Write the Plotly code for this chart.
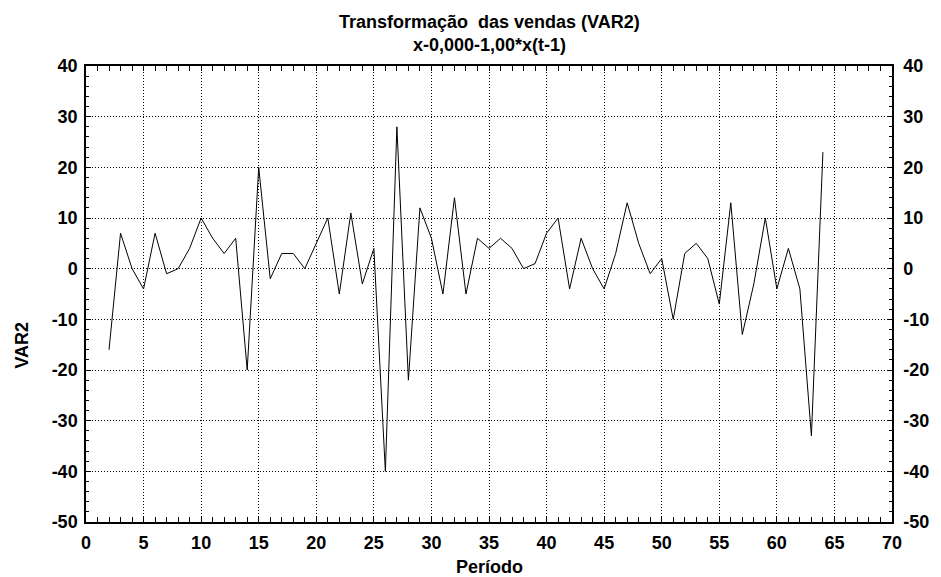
import plotly.graph_objects as go

periodo = list(range(2, 65))
var2 = [-16, 7, 0, -4, 7, -1, 0, 4, 10, 6, 3, 6, -20, 20, -2, 3, 3, 0, 5, 10,
        -5, 11, -3, 4, -40, 28, -22, 12, 6, -5, 14, -5, 6, 4, 6, 4, 0, 1, 7,
        10, -4, 6, 0, -4, 3, 13, 5, -1, 2, -10, 3, 5, 2, -7, 13, -13, -3, 10,
        -4, 4, -4, -33, 23]

x_tickvals = [0, 5, 10, 15, 20, 25, 30, 35, 40, 45, 50, 55, 60, 65, 70]
x_ticktext = ["0", "5", "10", "15", "20", "25", "30", "35", "40", "45", "50",
              "55", "60", "65", "70"]
y_tickvals = [-50, -40, -30, -20, -10, 0, 10, 20, 30, 40]
y_ticktext = ["-50", "-40", "-30", "-20", "-10", "0", "10", "20", "30", "40"]

title_line1 = "Transformação  das vendas (VAR2)"
title_line2 = "x-0,000-1,00*x(t-1)"
x_title = "Período"
y_title = "VAR2"

FONT = "Liberation Sans, Arial, sans-serif"
TXT = dict(family=FONT, size=18, color="black", weight="bold")

fig = go.Figure()
fig.add_trace(go.Scatter(x=periodo, y=var2, mode="lines",
                         line=dict(color="black", width=1), showlegend=False))
fig.add_trace(go.Scatter(x=periodo, y=var2, mode="lines", yaxis="y2",
                         line=dict(color="rgba(0,0,0,0)", width=0),
                         hoverinfo="skip", showlegend=False))

axis_common = dict(
    showline=True, linecolor="black", linewidth=1.5,
    ticks="inside", ticklen=5, tickcolor="black", tickwidth=1,
    tickfont=TXT, zeroline=False,
)

fig.update_layout(
    width=933, height=569,
    margin=dict(l=78, r=43, t=58, b=55),
    paper_bgcolor="white", plot_bgcolor="white",
    font=dict(family=FONT, color="black"),
    xaxis=dict(
        range=[0, 70], tickmode="array", tickvals=x_tickvals, ticktext=x_ticktext,
        mirror="allticks",
        showgrid=True, gridcolor="black", griddash="1px,2px", gridwidth=1,
        minor=dict(dtick=1, tick0=0, ticks="inside", ticklen=3, tickcolor="black",
                   showgrid=False),
        ticklabelstandoff=4,
        **axis_common,
    ),
    yaxis=dict(
        range=[-50, 40], tickmode="array", tickvals=y_tickvals, ticktext=y_ticktext,
        mirror=True,
        showgrid=True, gridcolor="black", griddash="1px,2px", gridwidth=1,
        minor=dict(dtick=2, tick0=0, ticks="inside", ticklen=3, tickcolor="black",
                   showgrid=False),
        ticklabelstandoff=3,
        **axis_common,
    ),
    yaxis2=dict(
        range=[-50, 40], tickmode="array", tickvals=y_tickvals, ticktext=y_ticktext,
        overlaying="y", side="right", showgrid=False,
        minor=dict(dtick=2, tick0=0, ticks="inside", ticklen=3, tickcolor="black",
                   showgrid=False),
        ticklabelstandoff=6,
        **axis_common,
    ),
    annotations=[
        dict(text=title_line1, xref="paper", yref="paper", x=0.5, y=1.0965,
             xanchor="center", yanchor="middle", showarrow=False, font=TXT),
        dict(text=title_line2, xref="paper", yref="paper", x=0.5, y=1.046,
             xanchor="center", yanchor="middle", showarrow=False, font=TXT),
        dict(text=x_title, xref="paper", yref="paper", x=0.5, y=-0.0987,
             xanchor="center", yanchor="middle", showarrow=False, font=TXT),
        dict(text=y_title, xref="paper", yref="paper", x=-0.0788, y=0.388,
             xanchor="center", yanchor="middle", showarrow=False, font=TXT,
             textangle=-90),
    ],
)

fig.write_html("out.html")
